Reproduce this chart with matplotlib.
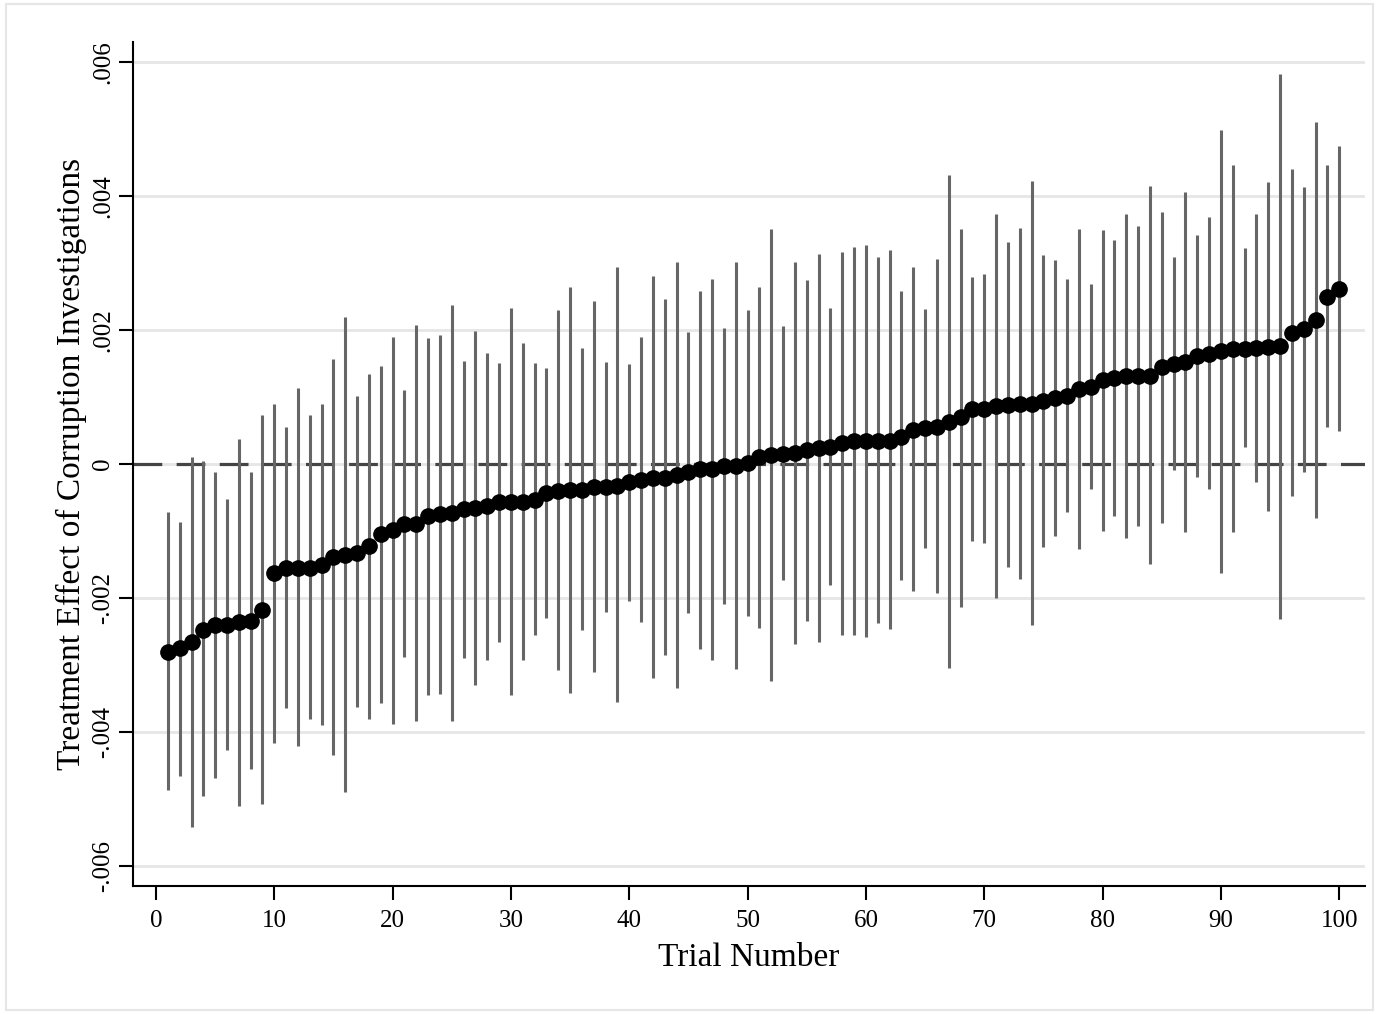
import numpy as np
import matplotlib.pyplot as plt
from matplotlib.patches import Rectangle

# Point estimates and 95% CI bounds (in units of 0.001), trials 1..100
trial = np.arange(1, 101)
est = np.array([
    -2.80, -2.75, -2.65, -2.47, -2.40, -2.40, -2.36, -2.34, -2.18, -1.63,
    -1.55, -1.55, -1.55, -1.50, -1.39, -1.36, -1.32, -1.22, -1.05, -0.99,
    -0.90, -0.89, -0.78, -0.75, -0.73, -0.67, -0.66, -0.62, -0.57, -0.56,
    -0.56, -0.53, -0.43, -0.40, -0.39, -0.38, -0.34, -0.34, -0.32, -0.27,
    -0.23, -0.20, -0.20, -0.17, -0.12, -0.08, -0.08, -0.03, -0.03, 0.02,
    0.10, 0.13, 0.15, 0.16, 0.21, 0.24, 0.25, 0.31, 0.34, 0.34,
    0.35, 0.35, 0.41, 0.51, 0.54, 0.56, 0.63, 0.70, 0.82, 0.82,
    0.87, 0.88, 0.90, 0.90, 0.94, 0.98, 1.01, 1.12, 1.15, 1.25,
    1.28, 1.31, 1.31, 1.32, 1.45, 1.49, 1.52, 1.62, 1.65, 1.69,
    1.72, 1.72, 1.74, 1.75, 1.76, 1.96, 2.01, 2.15, 2.50, 2.62,
])
upper = np.array([
    -0.72, -0.86, 0.11, 0.04, -0.12, -0.52, 0.38, -0.12, 0.73, 0.90,
    0.56, 1.14, 0.73, 0.90, 1.57, 2.20, 1.01, 1.35, 1.47, 1.90,
    1.10, 2.07, 1.88, 1.93, 2.38, 1.54, 1.98, 1.66, 1.51, 2.33,
    1.81, 1.51, 1.43, 2.30, 2.65, 1.73, 2.43, 1.53, 2.94, 1.50,
    1.89, 2.81, 2.47, 3.01, 1.97, 2.59, 2.76, 2.03, 3.01, 2.30,
    2.64, 3.51, 2.06, 3.02, 2.75, 3.13, 2.33, 3.16, 3.24, 3.27,
    3.09, 3.19, 2.59, 2.94, 2.32, 3.06, 4.32, 3.51, 2.79, 2.83,
    3.74, 3.31, 3.53, 4.22, 3.12, 3.05, 2.76, 3.51, 2.69, 3.50,
    3.35, 3.73, 3.56, 4.15, 3.77, 3.09, 4.06, 3.42, 3.69, 4.99,
    4.46, 3.23, 3.74, 4.21, 5.82, 4.40, 4.14, 5.11, 4.46, 4.75,
])
lower = np.array([
    -4.87, -4.66, -5.41, -4.96, -4.68, -4.27, -5.10, -4.55, -5.07, -4.16,
    -3.64, -4.21, -3.80, -3.90, -4.34, -4.90, -3.62, -3.80, -3.57, -3.88,
    -2.88, -3.83, -3.45, -3.43, -3.84, -2.89, -3.30, -2.92, -2.66, -3.45,
    -2.93, -2.55, -2.29, -3.07, -3.42, -2.48, -3.10, -2.20, -3.55, -2.04,
    -2.36, -3.19, -2.85, -3.34, -2.22, -2.76, -2.93, -2.09, -3.06, -2.26,
    -2.44, -3.24, -1.73, -2.69, -2.34, -2.65, -1.81, -2.55, -2.55, -2.58,
    -2.37, -2.46, -1.73, -1.90, -1.25, -1.93, -3.05, -2.13, -1.15, -1.18,
    -2.00, -1.54, -1.72, -2.40, -1.23, -1.08, -0.72, -1.26, -0.37, -1.00,
    -0.77, -1.11, -0.92, -1.49, -0.88, -0.09, -1.01, -0.19, -0.37, -1.62,
    -1.01, 0.25, -0.26, -0.70, -2.31, -0.48, -0.12, -0.80, 0.55, 0.50,
])

yticks = [0.006, 0.004, 0.002, 0, -0.002, -0.004, -0.006]
ytick_labels = ['.006', '.004', '.002', '0', '-.002', '-.004', '-.006']

plt.rcParams['font.family'] = ['Liberation Serif', 'DejaVu Serif']

fig = plt.figure(figsize=(13.79, 10.14), dpi=100)
ax = fig.add_axes([0.0964, 0.126, 0.8936, 0.8326])

# light frame round the graph region
fig.patches.append(Rectangle((0.004, 0.004), 0.992, 0.992, transform=fig.transFigure,
                             fill=False, edgecolor='#e6e6e6', linewidth=1.5))

for y in yticks:
    ax.axhline(y, color='#e6e6e6', linewidth=2, zorder=0)
ax.axhline(0, color='#444444', linewidth=2.3, dashes=(9, 4.5), zorder=1)

ax.vlines(trial, lower / 1000, upper / 1000, color='#666666', linewidth=2.2, zorder=2)
ax.plot(trial, est / 1000, 'o', color='black', markersize=11, zorder=3)

ax.set_xlim(-1.95, 102.2)
ax.set_ylim(-0.0063, 0.0063)
ax.set_xticks(np.arange(0, 101, 10))
ax.set_yticks(yticks)
ax.set_yticklabels(ytick_labels, rotation=90, va='center')
ax.tick_params(axis='both', labelsize=18, width=1.5, length=10, direction='out')
ax.tick_params(axis='x', pad=7)

ax.set_xlabel('Trial Number', fontsize=24, labelpad=8)
ax.set_ylabel('Treatment Effect of Corruption Investigations', fontsize=24, labelpad=4)

for side in ['top', 'right']:
    ax.spines[side].set_visible(False)
for side in ['left', 'bottom']:
    ax.spines[side].set_linewidth(1.5)

fig.savefig('out.png', dpi=100)
